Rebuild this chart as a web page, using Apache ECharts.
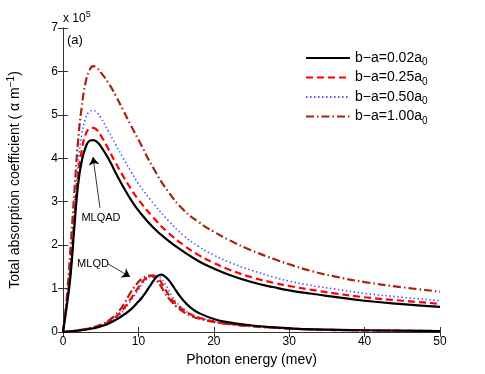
<!DOCTYPE html>
<html>
<head>
<meta charset="utf-8">
<script src="https://cdn.jsdelivr.net/npm/echarts@6/dist/echarts.min.js"></script>
<style>
html, body { margin: 0; padding: 0; background: #fff; }
#chart { width: 485px; height: 374px; }
</style>
</head>
<body>
<div id="chart"></div>
<script>
// photon energy (mev), values in units of 1e5
var energyQAD = [0, 0.5, 1, 1.5, 2, 2.5, 3, 3.5, 4, 4.5, 5, 6, 7, 8, 9, 10, 12, 14, 16, 18, 20, 22, 25, 28, 30, 33, 36, 40, 45, 50];
var qad002 = [0, 0.6, 1.3, 2.4, 3.4, 3.95, 4.25, 4.4, 4.42, 4.38, 4.28, 4.0, 3.66, 3.34, 3.05, 2.8, 2.4, 2.1, 1.85, 1.63, 1.46, 1.32, 1.15, 1.03, 0.96, 0.88, 0.81, 0.72, 0.64, 0.58];
var qad025 = [0, 0.65, 1.45, 2.6, 3.6, 4.2, 4.55, 4.68, 4.7, 4.65, 4.53, 4.22, 3.89, 3.58, 3.3, 3.05, 2.63, 2.28, 2.0, 1.77, 1.59, 1.44, 1.26, 1.13, 1.06, 0.97, 0.89, 0.8, 0.72, 0.65];
var qad050 = [0, 0.7, 1.6, 2.8, 3.9, 4.55, 4.92, 5.07, 5.1, 5.05, 4.94, 4.63, 4.31, 4.0, 3.7, 3.42, 2.96, 2.56, 2.22, 1.97, 1.77, 1.61, 1.42, 1.26, 1.17, 1.07, 0.99, 0.89, 0.8, 0.72];
var qad100 = [0, 0.8, 1.95, 3.2, 4.4, 5.2, 5.75, 6.02, 6.12, 6.08, 5.98, 5.74, 5.44, 5.1, 4.76, 4.43, 3.77, 3.22, 2.81, 2.53, 2.31, 2.12, 1.88, 1.68, 1.56, 1.4, 1.28, 1.15, 1.03, 0.93];

var energyQD = [0, 2, 4, 5, 6, 7, 8, 9, 10, 10.5, 11, 11.5, 12, 12.5, 13, 13.5, 14, 14.5, 15, 16, 17, 18, 20, 22, 25, 30, 35, 40, 45, 50];
var qd002 = [0, 0.03, 0.085, 0.13, 0.19, 0.28, 0.39, 0.52, 0.7, 0.8, 0.92, 1.05, 1.18, 1.28, 1.32, 1.28, 1.2, 1.08, 0.95, 0.72, 0.55, 0.44, 0.3, 0.22, 0.15, 0.085, 0.055, 0.04, 0.03, 0.022];
var qd025 = [0, 0.035, 0.1, 0.15, 0.23, 0.35, 0.53, 0.77, 1.03, 1.15, 1.24, 1.29, 1.3, 1.25, 1.15, 1.0, 0.86, 0.74, 0.64, 0.5, 0.4, 0.33, 0.24, 0.19, 0.14, 0.08, 0.05, 0.037, 0.028, 0.022];
var qd050 = [0, 0.035, 0.095, 0.14, 0.21, 0.32, 0.49, 0.72, 0.97, 1.1, 1.2, 1.27, 1.31, 1.3, 1.24, 1.12, 0.97, 0.82, 0.69, 0.53, 0.41, 0.34, 0.25, 0.19, 0.14, 0.082, 0.052, 0.038, 0.028, 0.022];
var qd100 = [0, 0.04, 0.11, 0.17, 0.26, 0.4, 0.62, 0.92, 1.15, 1.23, 1.28, 1.3, 1.27, 1.18, 1.05, 0.9, 0.78, 0.68, 0.59, 0.46, 0.37, 0.31, 0.23, 0.18, 0.13, 0.08, 0.05, 0.037, 0.028, 0.022];

var seriesNames = ['b\u2212a=0.02a{sub|0}', 'b\u2212a=0.25a{sub|0}', 'b\u2212a=0.50a{sub|0}', 'b\u2212a=1.00a{sub|0}'];
var lineStyles = [
	{ color: '#000000', width: 2.2, type: 'solid' },
	{ color: '#ff0000', width: 2.2, type: [7, 4] },
	{ color: '#4a5cff', width: 1.6, type: [1.5, 2.5] },
	{ color: '#a3240f', width: 2.2, type: [8, 3, 1.5, 3] }
];

function pairs(xs, ys) {
	var out = [];
	for (var i = 0; i < xs.length; i++) out.push([xs[i], ys[i]]);
	return out;
}

var font = 'Liberation Sans, Arial, sans-serif';
var qadSets = [qad002, qad025, qad050, qad100];
var qdSets = [qd002, qd025, qd050, qd100];
var series = [];
for (var k = 0; k < 4; k++) {
	series.push({
		name: seriesNames[k], type: 'line', smooth: 0.5, symbol: 'none',
		lineStyle: lineStyles[k], itemStyle: { color: lineStyles[k].color },
		data: pairs(energyQAD, qadSets[k]), z: 10 - k
	});
}
for (var k = 0; k < 4; k++) {
	series.push({
		name: seriesNames[k], type: 'line', smooth: 0.5, symbol: 'none',
		lineStyle: lineStyles[k], itemStyle: { color: lineStyles[k].color },
		data: pairs(energyQD, qdSets[k]), z: 10 - k
	});
}
// annotations
series.push({
	type: 'line', data: [], silent: true,
	markLine: {
		silent: true, animation: false, symbolSize: 8,
		lineStyle: { color: '#000', width: 0.8, type: 'solid' },
		label: { show: false },
		data: [
			[{ coord: [4.9, 2.86], symbol: 'none' }, { coord: [3.98, 4.03], symbol: 'arrow' }],
			[{ coord: [5.97, 1.57], symbol: 'none' }, { coord: [8.9, 1.27], symbol: 'arrow' }]
		]
	},
	markPoint: {
		silent: true, animation: false, symbol: 'circle', symbolSize: 0,
		label: { show: true, position: 'inside', color: '#000', fontSize: 11, fontFamily: font },
		data: [
			{ coord: [5.04, 2.63], label: { formatter: 'MLQAD' } },
			{ coord: [3.98, 1.57], label: { formatter: 'MLQD' } }
		]
	}
});

var axisCol = '#333';
var myChart = echarts.init(document.getElementById('chart'));
var option = {
	animation: false,
	title: [
		{ text: 'x 10{s|5}', left: 63, top: 10, padding: 0,
			textStyle: { fontSize: 12, fontWeight: 'normal', color: '#000', fontFamily: font,
				rich: { s: { fontSize: 9, padding: [0, 0, 8, 0], fontFamily: font } } } },
		{ text: '(a)', left: 67, top: 34, padding: 0,
			textStyle: { fontSize: 13, fontWeight: 'normal', color: '#000', fontFamily: font } }
	],
	grid: { left: 63, right: 45, top: 28, bottom: 42, outerBoundsMode: 'none' },
	legend: {
		orient: 'vertical', left: 300, top: 46, itemWidth: 44, itemHeight: 14, itemGap: 3,
		data: seriesNames,
		itemStyle: { opacity: 0 },
		textStyle: { fontSize: 14, color: '#000', fontFamily: font,
			rich: { sub: { fontSize: 10, padding: [9, 0, 0, 0], fontFamily: font } } }
	},
	xAxis: [
		{ type: 'value', min: 0, max: 50, interval: 10, name: 'Photon energy (mev)',
			nameLocation: 'middle', nameGap: 20,
			nameTextStyle: { fontSize: 14, color: '#000', fontFamily: font },
			axisLine: { lineStyle: { color: axisCol, width: 1 } },
			axisTick: { inside: true, length: 5, lineStyle: { color: axisCol } },
			axisLabel: { fontSize: 12, color: '#000', margin: 4, fontFamily: font },
			splitLine: { show: false } },
		{ type: 'value', min: 0, max: 50, interval: 10, position: 'top',
			axisLine: { lineStyle: { color: axisCol, width: 1 } },
			axisTick: { inside: true, length: 5, lineStyle: { color: axisCol } },
			axisLabel: { show: false }, splitLine: { show: false } }
	],
	yAxis: [
		{ type: 'value', min: 0, max: 7, interval: 1,
			name: 'Total absorption coefficient ( \u03b1 m{sup|\u22121})',
			nameLocation: 'middle', nameGap: 38, nameRotate: 90,
			nameTextStyle: { fontSize: 14, color: '#000', fontFamily: font,
				rich: { sup: { fontSize: 10, padding: [0, 0, 9, 0], fontFamily: font } } },
			axisLine: { lineStyle: { color: axisCol, width: 1 } },
			axisTick: { inside: true, length: 5, lineStyle: { color: axisCol } },
			axisLabel: { fontSize: 12, color: '#000', margin: 5, fontFamily: font },
			splitLine: { show: false } },
		{ type: 'value', min: 0, max: 7, interval: 1, position: 'right',
			axisLine: { show: true, lineStyle: { color: axisCol, width: 1 } },
			axisTick: { show: true, inside: true, length: 5, lineStyle: { color: axisCol } },
			axisLabel: { show: false }, splitLine: { show: false } }
	],
	series: series
};
myChart.setOption(option);
</script>
</body>
</html>
